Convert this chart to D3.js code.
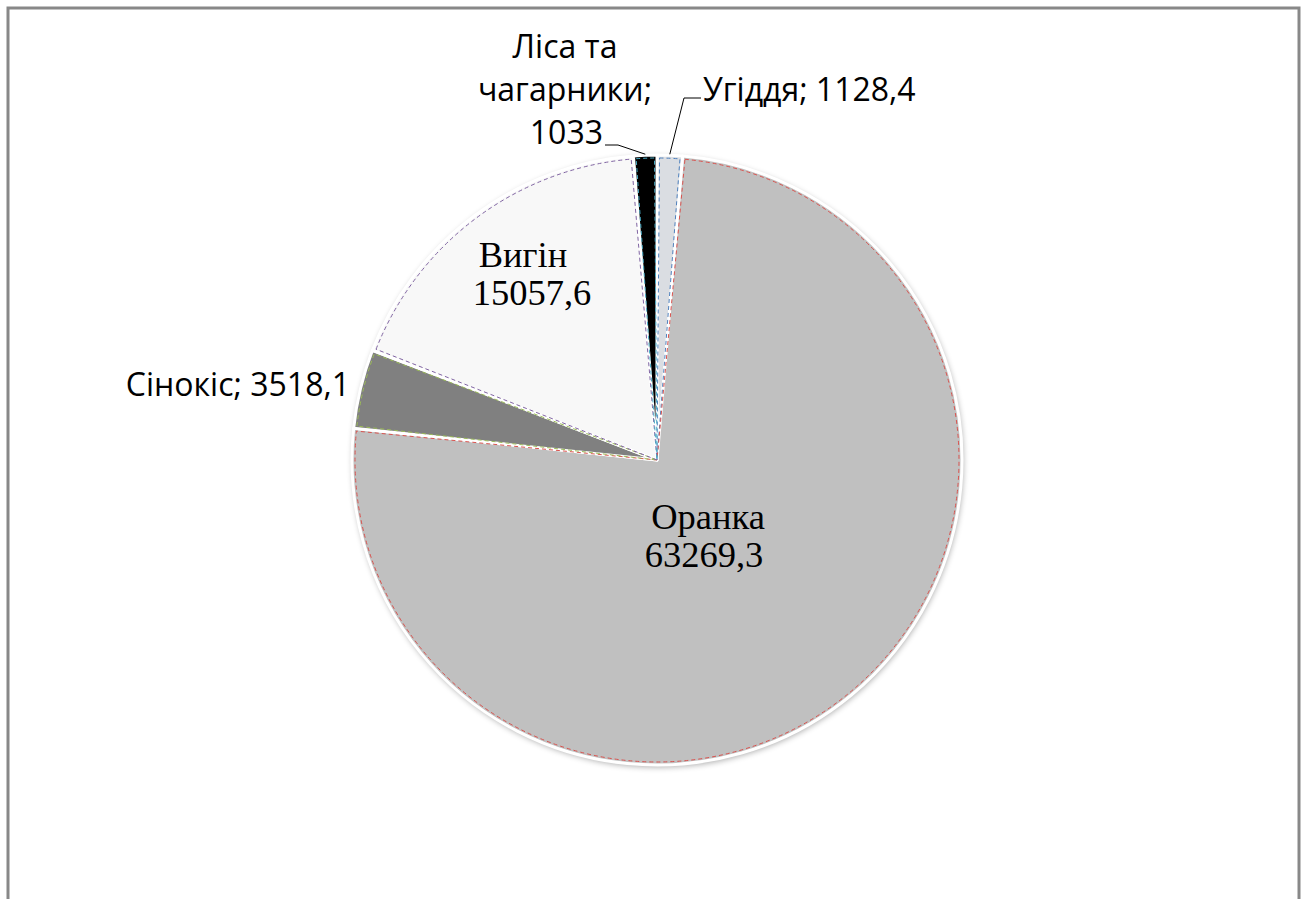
<!DOCTYPE html>
<html>
<head>
<meta charset="utf-8">
<script src="https://cdn.jsdelivr.net/npm/d3@7"></script>
<style>
body { margin: 0; background: #fff; }
svg { display: block; }
</style>
</head>
<body>
<div id="chart"></div>
<script>
// data (order = clockwise from 12 o'clock)
var names = ["Угіддя", "Оранка", "Сінокіс", "Вигін", "Ліса та чагарники"];
var values = [1128.4, 63269.3, 3518.1, 15057.6, 1033];
var valueText = ["1128,4", "63269,3", "3518,1", "15057,6", "1033"];
var fills = ["#dadde2", "#c0c0c0", "#808080", "#f8f8f8", "#000000"];
var edges = ["#4f81bd", "#d9534f", "#9bbb59", "#8064a2", "#4bacc6"];

var w = 1306, h = 899;
var cx = 657, cy = 460, r = 305;

var svg = d3.select("#chart").append("svg")
    .attr("width", w).attr("height", h);

// frame
svg.append("rect")
    .attr("x", 8).attr("y", 8)
    .attr("width", 1291).attr("height", 960)
    .attr("fill", "none")
    .attr("stroke", "#888").attr("stroke-width", 3);

var defs = svg.append("defs");
var f = defs.append("filter").attr("id", "shadow")
    .attr("x", "-10%").attr("y", "-10%").attr("width", "120%").attr("height", "120%");
f.append("feGaussianBlur").attr("in", "SourceAlpha").attr("stdDeviation", 3);
f.append("feOffset").attr("dx", 1).attr("dy", 2).attr("result", "b");
f.append("feComponentTransfer").append("feFuncA").attr("type", "linear").attr("slope", 0.35);
var m = f.append("feMerge");
m.append("feMergeNode");
m.append("feMergeNode").attr("in", "SourceGraphic");

var pie = d3.pie().sort(null).value(function(d){ return d; });
var arcs = pie(values);

var arc = d3.arc().innerRadius(0).outerRadius(r);
var inner = d3.arc().innerRadius(0).outerRadius(r - 3)
    .padAngle(5 / r).padRadius(r);

var g = svg.append("g").attr("transform", "translate(" + cx + "," + cy + ")");

g.append("circle").attr("r", r).attr("fill", "#fff").attr("filter", "url(#shadow)");

g.selectAll("path.slice")
    .data(arcs)
    .enter()
    .append("path")
    .attr("class", "slice")
    .attr("d", arc)
    .attr("fill", function(d, i){ return fills[i]; })
    .attr("stroke", "#fff")
    .attr("stroke-width", 3)
    .attr("stroke-linejoin", "round");

g.selectAll("path.edge")
    .data(arcs)
    .enter()
    .append("path")
    .attr("class", "edge")
    .attr("d", inner)
    .attr("fill", "none")
    .attr("stroke", function(d, i){ return edges[i]; })
    .attr("stroke-width", 1)
    .attr("stroke-dasharray", "4,3");

// labels inside (serif)
function serifLabel(x, y, lines) {
    var t = svg.append("text")
        .attr("y", y)
        .attr("text-anchor", "middle")
        .attr("font-family", "'Liberation Serif', 'Times New Roman', serif")
        .attr("font-size", 36.5)
        .attr("fill", "#000");
    lines.forEach(function(s, k) {
        t.append("tspan").attr("x", x[k]).attr("dy", k === 0 ? 0 : 38).text(s);
    });
}
serifLabel([708, 704], 529, [names[1], valueText[1]]);
serifLabel([523, 532], 267, [names[3], valueText[3]]);

// outside labels (sans)
var sans = "'Open Sans', sans-serif";
var fs = 32;
svg.append("text")
    .attr("x", 350).attr("y", 396)
    .attr("text-anchor", "end")
    .attr("font-family", sans).attr("font-size", fs)
    .text(names[2] + "; " + valueText[2]);

var lt = svg.append("text")
    .attr("text-anchor", "middle")
    .attr("font-family", sans).attr("font-size", fs);
lt.append("tspan").attr("x", 565).attr("y", 58).text("Ліса та");
lt.append("tspan").attr("x", 565).attr("y", 101).text("чагарники;");
svg.append("text")
    .attr("x", 603).attr("y", 144)
    .attr("text-anchor", "end")
    .attr("font-family", sans).attr("font-size", fs)
    .text(valueText[4]);

svg.append("text")
    .attr("x", 703).attr("y", 101)
    .attr("font-family", sans).attr("font-size", fs)
    .text(names[0] + "; " + valueText[0]);

// leader lines
function leader(pts) {
    svg.append("path")
        .attr("d", d3.line()(pts))
        .attr("fill", "none")
        .attr("stroke", "#000").attr("stroke-width", 1);
}
var a4 = (arcs[4].startAngle + arcs[4].endAngle) / 2;
var a0 = (arcs[0].startAngle + arcs[0].endAngle) / 2;
leader([[605, 145], [618, 145], [cx + Math.sin(a4) * (r - 2), cy - Math.cos(a4) * (r - 2) - 3]]);
leader([[701, 98], [684, 98], [cx + Math.sin(a0) * (r - 2), cy - Math.cos(a0) * (r - 2) - 3]]);
</script>
</body>
</html>
